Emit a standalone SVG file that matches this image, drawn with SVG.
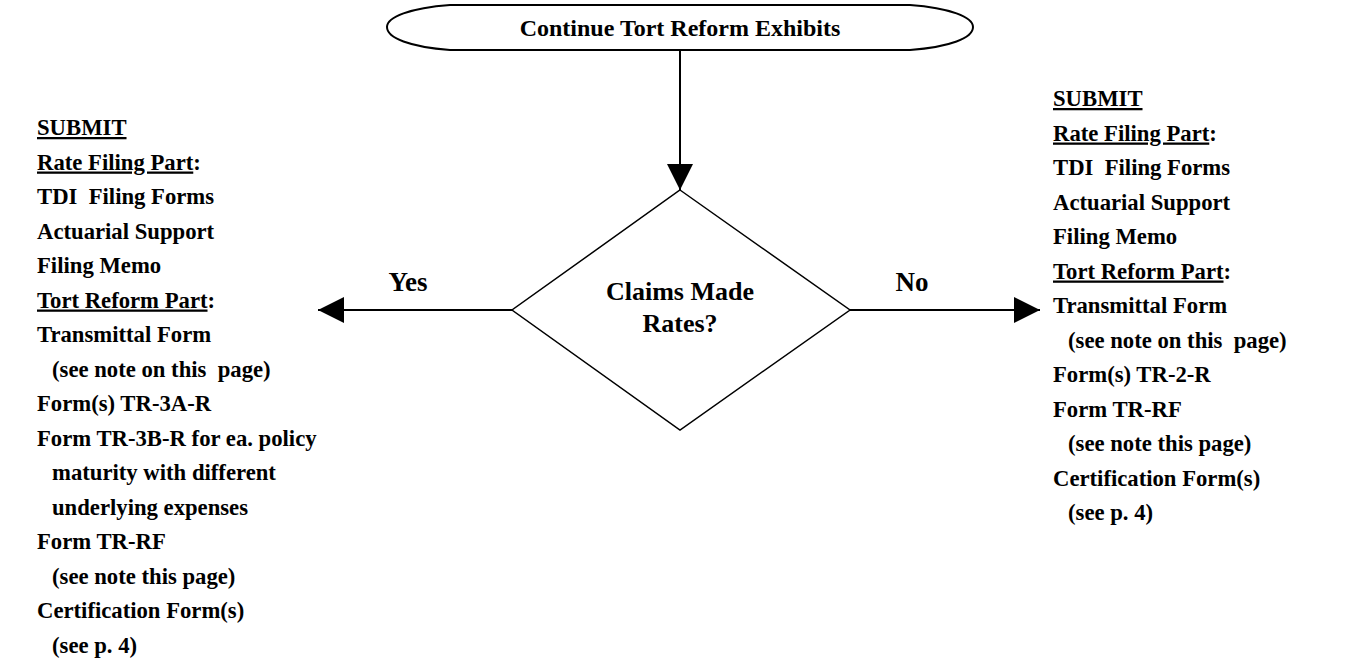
<svg xmlns="http://www.w3.org/2000/svg" width="1355" height="665" viewBox="0 0 1355 665">
<style>
  text { font-family: "Liberation Serif", "Times New Roman", serif; font-weight: bold; font-size: 22.7px; fill: #000; white-space: pre; }
  .u { text-decoration: underline; }
  .shape { fill: #fff; stroke: #000; stroke-width: 1.5; }
  .term { stroke-width: 2; }
  .conn { stroke: #000; stroke-width: 2; fill: none; }
  .c { text-anchor: middle; }
  .title { font-size: 24px; }
  .mid { font-size: 26px; }
  .lbl { font-size: 27px; }
</style>
<defs>
  <marker id="arrowBig" viewBox="0 0 10 10" refX="10" refY="5" markerWidth="26" markerHeight="26" markerUnits="userSpaceOnUse" orient="auto">
    <path d="M0,0 L10,5 L0,10 Z" fill="#000"/>
  </marker>
</defs>
<rect width="1355" height="665" fill="#fff"/>

<g id="connectors">
  <line class="conn" x1="680" y1="50" x2="680" y2="190" marker-end="url(#arrowBig)"/>
  <line class="conn" x1="512" y1="310" x2="318" y2="310" marker-end="url(#arrowBig)"/>
  <line class="conn" x1="850" y1="310" x2="1040" y2="310" marker-end="url(#arrowBig)"/>
  <text x="408" y="291" class="c lbl">Yes</text>
  <text x="912" y="291" class="c lbl">No</text>
</g>

<g id="start">
  <path class="shape term" d="M450,5 L910,5 C950,8 973,17 973,27 C973,38 950,47 910,50 L450,50 C410,47 387,38 387,27 C387,17 410,8 450,5 Z"/>
  <text x="680" y="36" class="c title">Continue Tort Reform Exhibits</text>
</g>

<g id="decision">
  <polygon class="shape" points="680,190 850,310 680,430 512,310"/>
  <text x="680" y="300" class="c mid">Claims Made</text>
  <text x="680" y="332" class="c mid">Rates?</text>
</g>

<g id="yes-list">
  <text x="37" y="135"><tspan class="u">SUBMIT</tspan></text>
  <text x="37" y="169.5"><tspan class="u">Rate Filing Part</tspan>:</text>
  <text x="37" y="204">TDI  Filing Forms</text>
  <text x="37" y="238.5">Actuarial Support</text>
  <text x="37" y="273">Filing Memo</text>
  <text x="37" y="307.5"><tspan class="u">Tort Reform Part</tspan>:</text>
  <text x="37" y="342">Transmittal Form</text>
  <text x="52" y="376.5">(see note on this  page)</text>
  <text x="37" y="411">Form(s) TR-3A-R</text>
  <text x="37" y="445.5">Form TR-3B-R for ea. policy</text>
  <text x="52" y="480">maturity with different</text>
  <text x="52" y="514.5">underlying expenses</text>
  <text x="37" y="549">Form TR-RF</text>
  <text x="52" y="583.5">(see note this page)</text>
  <text x="37" y="618">Certification Form(s)</text>
  <text x="52" y="652.5">(see p. 4)</text>
</g>

<g id="no-list">
  <text x="1053" y="106"><tspan class="u">SUBMIT</tspan></text>
  <text x="1053" y="140.5"><tspan class="u">Rate Filing Part</tspan>:</text>
  <text x="1053" y="175">TDI  Filing Forms</text>
  <text x="1053" y="209.5">Actuarial Support</text>
  <text x="1053" y="244">Filing Memo</text>
  <text x="1053" y="278.5"><tspan class="u">Tort Reform Part</tspan>:</text>
  <text x="1053" y="313">Transmittal Form</text>
  <text x="1068" y="347.5">(see note on this  page)</text>
  <text x="1053" y="382">Form(s) TR-2-R</text>
  <text x="1053" y="416.5">Form TR-RF</text>
  <text x="1068" y="451">(see note this page)</text>
  <text x="1053" y="485.5">Certification Form(s)</text>
  <text x="1068" y="520">(see p. 4)</text>
</g>
</svg>
